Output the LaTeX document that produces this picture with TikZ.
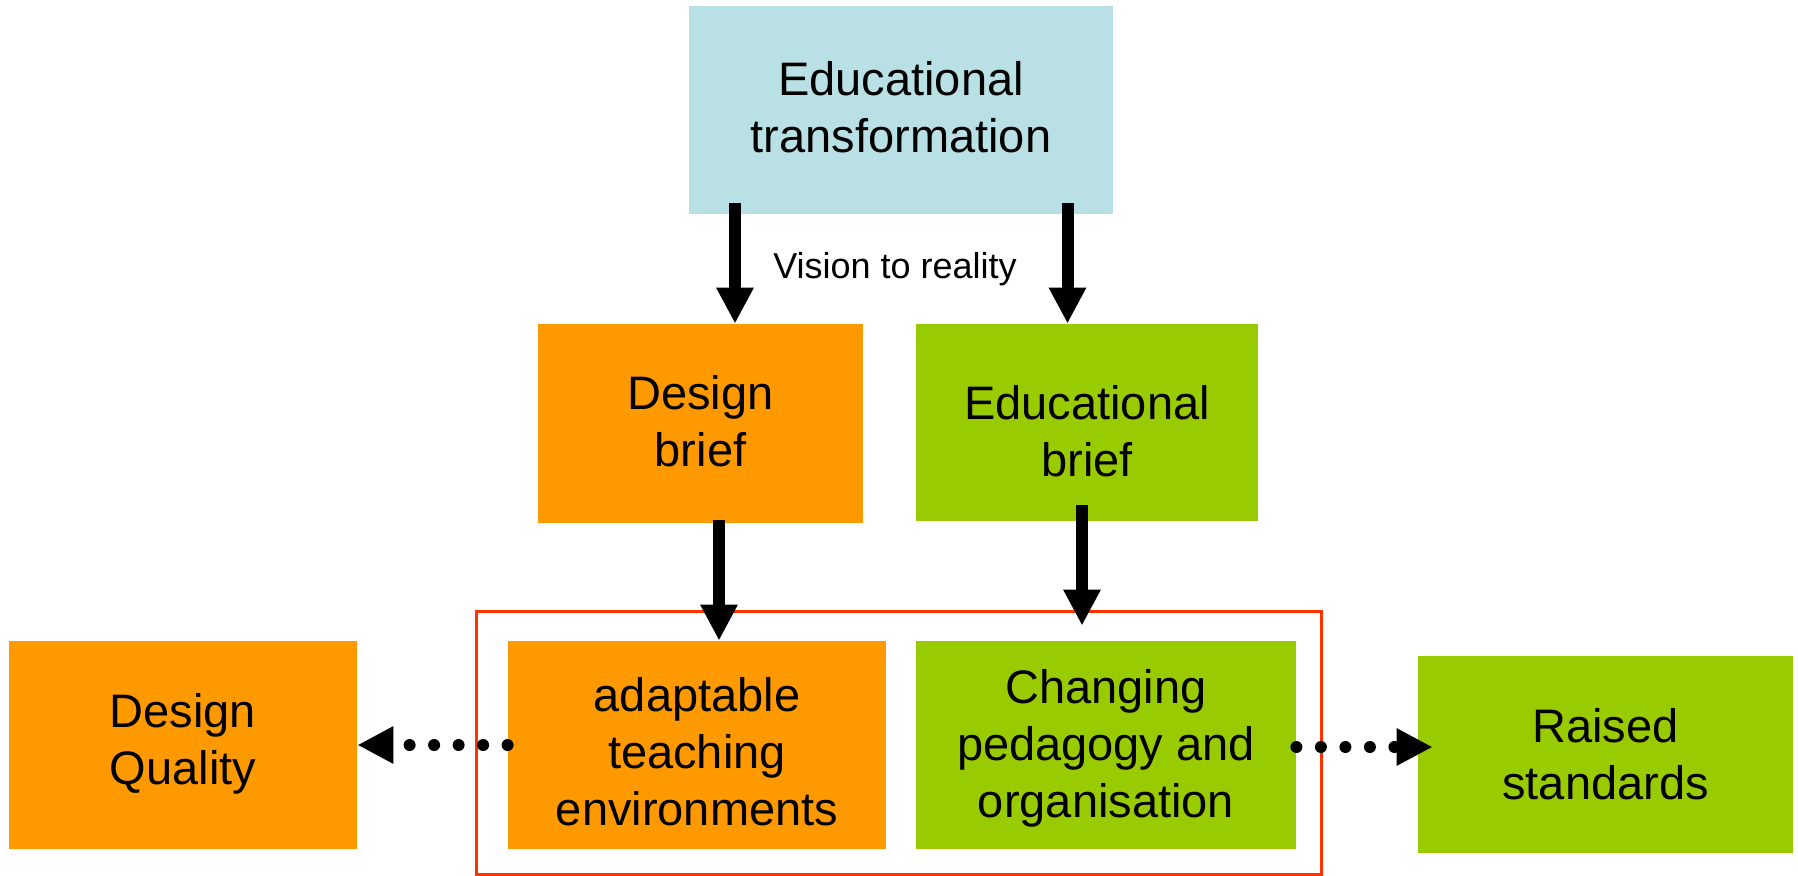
\documentclass[tikz,border=0pt]{standalone}
\usepackage{fontspec}
\setmainfont{Liberation Sans}
\usetikzlibrary{arrows.meta}
\definecolor{topblue}{RGB}{185,224,228}
\definecolor{boxorange}{RGB}{255,153,0}
\definecolor{boxgreen}{RGB}{153,204,0}
\definecolor{framered}{RGB}{255,51,0}
\tikzset{
  boxfont/.style={font=\fontsize{23.5pt}{28.5pt}\selectfont},
  box/.style={rectangle, inner sep=0pt, align=center, boxfont},
  orangebox/.style={box, fill=boxorange},
  greenbox/.style={box, fill=boxgreen},
  bluebox/.style={box, fill=topblue},
  boxtext/.style={align=center, boxfont, inner sep=0pt},
  arr/.style={line width=6pt, -{Triangle[width=17.5pt,length=18pt]}},
  dotarr/.style={line width=6pt, line cap=round, dash pattern=on 0pt off 12.25pt, -{Triangle[width=17.5pt,length=18pt]}},
}
\begin{document}
\begin{tikzpicture}[x=0.5pt,y=-0.5pt]
\useasboundingbox (0,0) rectangle (1798,875);
% group frame
\draw[framered, line width=1.5pt] (476,611) rectangle (1321,874);
% boxes
\node[bluebox, minimum width=212pt, minimum height=104pt] (top) at (901,110) {};
\node[boxtext] (toptext) at (901,107) {Educational\\transformation};
\node[orangebox, minimum width=162.5pt, minimum height=99.5pt] (db) at (700.5,423.5) {};
\node[boxtext] (dbtext) at (700.5,421.5) {Design\\brief};
\node[greenbox, minimum width=171pt, minimum height=98.5pt] (eb) at (1087,422.5) {};
\node[boxtext] (ebtext) at (1087,431.5) {Educational\\brief};
\node[orangebox, minimum width=174pt, minimum height=104pt] (dq) at (183,745) {};
\node[boxtext] (dqtext) at (183,744) {Design\\Quality};
\node[orangebox, minimum width=189pt, minimum height=104pt] (ad) at (697,745) {};
\node[boxtext] (adtext) at (697,752) {adaptable\\teaching\\environments};
\node[greenbox, minimum width=190pt, minimum height=104pt] (ch) at (1106,745) {};
\node[boxtext] (chtext) at (1106,748) {Changing\\pedagogy and\\organisation};
\node[greenbox, minimum width=187.5pt, minimum height=98.5pt] (rs) at (1605.5,754.5) {};
\node[boxtext] (rstext) at (1605.5,754.5) {Raised\\standards};
\node[anchor=base, inner sep=0pt, font=\fontsize{18pt}{21pt}\selectfont] (vis) at (895,278) {Vision to reality};
% arrow x positions
\coordinate (xA) at (735,0);
\coordinate (xB) at (1067.5,0);
\coordinate (xC) at (719,0);
\coordinate (xD) at (1082,0);
% arrows
\draw[arr] ([yshift=5.5pt]top.south -| xA) -- (db.north -| xA);
\draw[arr] ([yshift=5.5pt]top.south -| xB) -- (eb.north -| xB);
\draw[arr] ([yshift=1.5pt]db.south -| xC) -- (ad.north -| xC);
\draw[arr] ([yshift=8pt]eb.south -| xD) -- ([yshift=7.5pt]ch.north -| xD);
\draw[dotarr] (ad.west) -- (dq.east);
\draw[dotarr] ([yshift=-1pt]ch.east) -- ([xshift=7.5pt,yshift=-1pt]ch.east -| rs.west);
\end{tikzpicture}
\end{document}
